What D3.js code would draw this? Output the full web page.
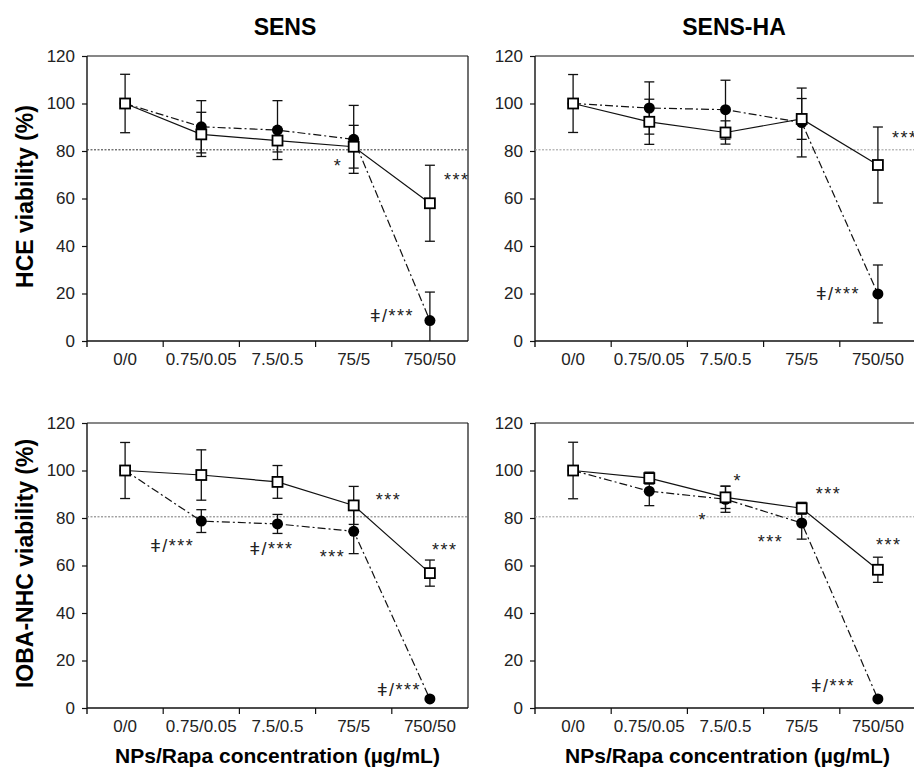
<!DOCTYPE html>
<html>
<head>
<meta charset="utf-8">
<script src="https://cdn.jsdelivr.net/npm/d3@7"></script>
<style>
  body { margin: 0; background: #fff; }
  text { font-family: "Liberation Sans", Arial, sans-serif; }
</style>
</head>
<body>
<div id="chart"></div>
<script>
// categories and ticks
const categories = ["0/0", "0.75/0.05", "7.5/0.5", "75/5", "750/50"];
const yTicks = [0, 20, 40, 60, 80, 100, 120];
const threshold = 80.5;

// HCE cells, SENS (open squares = solid line, filled circles = dash-dot line)
const hceSensSquare = [100, 87.0, 84.4, 81.8, 58.0];
const hceSensSquareErr = [12.3, 9.3, 4.8, 9.0, 16.0];
const hceSensCircle = [100, 90.2, 88.8, 84.9, 8.6];
const hceSensCircleErr = [0, 11.0, 12.4, 14.3, 12.0];

// HCE cells, SENS-HA
const hceHaSquare = [100, 92.3, 87.8, 93.5, 74.1];
const hceHaSquareErr = [12.2, 9.5, 4.9, 8.6, 16.0];
const hceHaCircle = [100, 98.1, 97.4, 92.0, 19.8];
const hceHaCircleErr = [0, 11.0, 12.4, 14.5, 12.2];

// IOBA-NHC cells, SENS
const iobaSensSquare = [100, 98.1, 95.2, 85.3, 56.8];
const iobaSensSquareErr = [11.8, 10.6, 6.9, 8.0, 5.5];
const iobaSensCircle = [100, 78.7, 77.5, 74.4, 3.8];
const iobaSensCircleErr = [0, 4.8, 4.0, 9.4, 0];

// IOBA-NHC cells, SENS-HA
const iobaHaSquare = [100, 96.8, 88.7, 84.1, 58.2];
const iobaHaSquareErr = [11.9, 2.5, 4.7, 2.5, 5.3];
const iobaHaCircle = [100, 91.3, 87.9, 77.9, 3.8];
const iobaHaCircleErr = [0, 6.1, 5.5, 6.8, 0];

// significance marks: [category index, value, pixel shift, text]
const hceSensMarks = [[3, 71.2, -20, "*"], [4, 65.3, 14, "***"], [4, 8.0, -60, "ǂ/***"]];
const hceHaMarks = [[4, 82.9, 14, "***"], [4, 17.3, -62, "ǂ/***"]];
const iobaSensMarks = [[3, 85.1, 22, "***"], [1, 65.7, -51, "ǂ/***"], [2, 64.4, -28, "ǂ/***"],
  [3, 61.1, -34, "***"], [4, 64.0, 2, "***"], [4, 5.1, -53, "ǂ/***"]];
const iobaHaMarks = [[2, 93.1, 8, "*"], [2, 76.6, -27, "*"], [3, 87.6, 14, "***"],
  [3, 67.4, -44, "***"], [4, 66.1, -2, "***"], [4, 6.7, -67, "ǂ/***"]];

const W = 914, H = 771;
const pw = 381, ph = 285;

const panels = [
  {x: 87, y: 56, title: "SENS", titleX: 285, ylab: "HCE viability (%)", xlab: false, refColor: "#333",
   sq: hceSensSquare, sqErr: hceSensSquareErr, ci: hceSensCircle, ciErr: hceSensCircleErr, marks: hceSensMarks},
  {x: 535, y: 56, title: "SENS-HA", titleX: 734, ylab: null, xlab: false, refColor: "#999",
   sq: hceHaSquare, sqErr: hceHaSquareErr, ci: hceHaCircle, ciErr: hceHaCircleErr, marks: hceHaMarks},
  {x: 87, y: 423, title: null, ylab: "IOBA-NHC viability (%)", xlab: true, refColor: "#777",
   sq: iobaSensSquare, sqErr: iobaSensSquareErr, ci: iobaSensCircle, ciErr: iobaSensCircleErr, marks: iobaSensMarks},
  {x: 535, y: 423, title: null, ylab: null, xlab: true, refColor: "#999",
   sq: iobaHaSquare, sqErr: iobaHaSquareErr, ci: iobaHaCircle, ciErr: iobaHaCircleErr, marks: iobaHaMarks}
];

const svg = d3.select("#chart")
  .append("svg")
    .attr("width", W)
    .attr("height", H);

svg.append("rect").attr("width", W).attr("height", H).attr("fill", "#fff");

const x = d3.scaleBand().domain(categories).range([0, pw]);
const y = d3.scaleLinear().domain([0, 120]).range([ph, 0]);
const cx = i => x(categories[i]) + x.bandwidth() / 2;

panels.forEach(p => {
  const g = svg.append("g").attr("transform", "translate(" + p.x + "," + p.y + ")");

  // y axis
  const ya = g.append("g")
    .call(d3.axisLeft(y).tickValues(yTicks).tickSize(5).tickPadding(7).tickSizeOuter(0));
  ya.select(".domain").remove();
  ya.selectAll("line").attr("stroke", "#111").attr("stroke-width", 1.2);
  ya.selectAll("text").attr("font-size", 17).attr("fill", "#222");

  // x axis labels at band centres, ticks at band edges
  const xa = g.append("g")
    .attr("transform", "translate(0," + ph + ")")
    .call(d3.axisBottom(x).tickSize(0).tickPadding(12));
  xa.select(".domain").remove();
  xa.selectAll("text").attr("font-size", 17).attr("fill", "#222");

  g.selectAll(".xtick")
    .data(categories.slice(1))
    .enter().append("line")
      .attr("x1", d => x(d)).attr("x2", d => x(d))
      .attr("y1", ph).attr("y2", ph + 6)
      .attr("stroke", "#111").attr("stroke-width", 1.2);

  // frame
  g.append("line").attr("x1", 0).attr("x2", 0).attr("y1", 0).attr("y2", ph + 6)
    .attr("stroke", "#111").attr("stroke-width", 1.4);
  g.append("line").attr("x1", 0).attr("x2", pw).attr("y1", ph).attr("y2", ph)
    .attr("stroke", "#111").attr("stroke-width", 1.4);
  g.append("line").attr("x1", 0).attr("x2", pw).attr("y1", 0).attr("y2", 0)
    .attr("stroke", "#111").attr("stroke-width", 1.2);
  g.append("line").attr("x1", pw).attr("x2", pw).attr("y1", 0).attr("y2", ph)
    .attr("stroke", "#111").attr("stroke-width", 1.2);

  // 80 % reference line
  g.append("line")
    .attr("x1", 0).attr("x2", pw)
    .attr("y1", y(threshold)).attr("y2", y(threshold))
    .attr("stroke", p.refColor).attr("stroke-width", 1)
    .attr("stroke-dasharray", "2,1.5");

  const line = d3.line().x((d, i) => cx(i)).y(d => y(d));

  // error bars
  const errBars = (vals, errs) => {
    vals.forEach((v, i) => {
      if (!errs[i]) return;
      const lo = Math.max(0, v - errs[i]), hi = v + errs[i];
      g.append("line").attr("x1", cx(i)).attr("x2", cx(i))
        .attr("y1", y(lo)).attr("y2", y(hi))
        .attr("stroke", "#111").attr("stroke-width", 1.3);
      [hi, lo].forEach(e => {
        if (e <= 0) return;
        g.append("line").attr("x1", cx(i) - 5).attr("x2", cx(i) + 5)
          .attr("y1", y(e)).attr("y2", y(e))
          .attr("stroke", "#111").attr("stroke-width", 1.3);
      });
    });
  };

  errBars(p.ci, p.ciErr);
  errBars(p.sq, p.sqErr);

  // circles series (dash-dot)
  g.append("path").datum(p.ci)
    .attr("d", line).attr("fill", "none")
    .attr("stroke", "#111").attr("stroke-width", 1.2)
    .attr("stroke-dasharray", "8,3,2,3");

  // squares series (solid)
  g.append("path").datum(p.sq)
    .attr("d", line).attr("fill", "none")
    .attr("stroke", "#111").attr("stroke-width", 1.2);

  g.selectAll(".ci")
    .data(p.ci)
    .enter().append("circle")
      .attr("cx", (d, i) => cx(i)).attr("cy", d => y(d))
      .attr("r", 5.5).attr("fill", "#000");

  g.selectAll(".sq")
    .data(p.sq)
    .enter().append("rect")
      .attr("x", (d, i) => cx(i) - 5).attr("y", d => y(d) - 5)
      .attr("width", 10).attr("height", 10)
      .attr("fill", "#fff").attr("stroke", "#000").attr("stroke-width", 1.8);

  // significance marks
  g.selectAll(".mark")
    .data(p.marks)
    .enter().append("text")
      .attr("x", d => cx(d[0]) + d[2])
      .attr("y", d => y(d[1]))
      .attr("font-size", 18)
      .attr("letter-spacing", 1.5)
      .attr("fill", "#222")
      .text(d => d[3]);

  // titles and axis labels
  if (p.title) {
    svg.append("text")
      .attr("x", p.titleX).attr("y", 35)
      .attr("text-anchor", "middle")
      .attr("font-size", 23).attr("font-weight", "bold")
      .text(p.title);
  }
  if (p.ylab) {
    svg.append("text")
      .attr("transform", "translate(33," + (p.y + ph / 2 - 2) + ") rotate(-90)")
      .attr("text-anchor", "middle")
      .attr("font-size", 23).attr("font-weight", "bold")
      .text(p.ylab);
  }
  if (p.xlab) {
    svg.append("text")
      .attr("x", p.x + pw / 2 + (p.x > 400 ? 2 : 0)).attr("y", 763)
      .attr("text-anchor", "middle")
      .attr("font-size", 21).attr("font-weight", "bold")
      .text("NPs/Rapa concentration (µg/mL)");
  }
});
</script>
</body>
</html>
